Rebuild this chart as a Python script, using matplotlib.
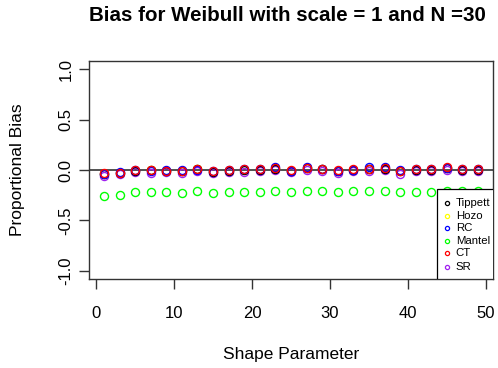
import numpy as np
import matplotlib
matplotlib.use("Agg")
import matplotlib.pyplot as plt
from matplotlib.patches import Rectangle

plt.rcParams['font.family'] = ['Liberation Sans', 'DejaVu Sans']

shape = np.arange(1, 50, 2)

tippett = [-0.036, -0.026, -0.007, -0.003, -0.007, -0.010, 0.007, -0.017, -0.007, 0.003,
           0.003, 0.013, -0.010, 0.017, 0.007, -0.010, 0.000, 0.010, 0.013, -0.013,
           0.003, 0.003, 0.017, 0.003, 0.003]
hozo = tippett
rc = [-0.043, -0.020, -0.003, -0.007, 0.000, 0.000, 0.003, -0.013, 0.000, 0.007,
      0.013, 0.026, -0.007, 0.030, 0.010, -0.007, 0.003, 0.026, 0.026, 0.000,
      0.013, 0.013, 0.020, 0.013, 0.013]
mantel = [-0.257, -0.244, -0.218, -0.218, -0.218, -0.231, -0.208, -0.228, -0.218, -0.218,
          -0.218, -0.205, -0.218, -0.205, -0.205, -0.218, -0.205, -0.205, -0.205, -0.218,
          -0.218, -0.218, -0.210, -0.210, -0.210]
ct = [-0.030, -0.030, 0.000, 0.000, -0.007, -0.013, 0.013, -0.010, -0.003, 0.013,
      0.007, 0.020, 0.000, 0.023, 0.013, 0.000, 0.007, 0.013, 0.020, -0.007,
      0.007, 0.007, 0.026, 0.007, 0.007]
sr = [-0.059, -0.043, -0.020, -0.026, -0.023, -0.026, -0.010, -0.030, -0.023, -0.017,
      -0.013, 0.000, -0.020, -0.003, -0.010, -0.026, -0.010, -0.007, -0.003, -0.036,
      -0.013, -0.010, 0.000, -0.007, -0.007]

names = ['Tippett', 'Hozo', 'RC', 'Mantel', 'CT', 'SR']
colors = ['black', '#FFFF00', '#0000FF', '#00FF00', '#FF0000', '#A020F0']
series = dict(zip(names, [tippett, hozo, rc, mantel, ct, sr]))
draw_order = ['Hozo', 'Mantel', 'SR', 'Tippett', 'RC', 'CT']

fig = plt.figure(figsize=(4.98, 3.68), dpi=100)
ax = fig.add_axes([89/498, 1-279/368, 404/498, 218/368])

ax.axhline(0, color='#333333', lw=1.2, zorder=1)
for n in draw_order:
    c = colors[names.index(n)]
    ax.plot(shape, series[n], 'o', mfc='none', mec=c, ms=5.8, mew=1.0, zorder=2)

ax.set_xlim(1 - 48*0.04, 49 + 48*0.04)
ax.set_ylim(-1.08, 1.08)
ax.set_xticks([0, 10, 20, 30, 40, 50])
ax.set_yticks([-1.0, -0.5, 0.0, 0.5, 1.0])
ax.set_yticklabels(['-1.0', '-0.5', '0.0', '0.5', '1.0'], rotation=90, va='center')
ax.tick_params(axis='x', length=7.2, width=1, color='#333333', labelsize=12, pad=12.5)
ax.tick_params(axis='y', length=7.2, width=1, color='#333333', labelsize=12, pad=4)
for s in ax.spines.values():
    s.set_color('#333333')
    s.set_linewidth(1)

# legend box in the bottom-right corner, cut off by the plot edge
tr = ax.transAxes
ax.add_patch(Rectangle((0.861, 0.0), 0.3, 0.413, transform=tr, facecolor='white',
                       edgecolor='black', lw=0.9, zorder=5, clip_on=True))
ys = [0.349, 0.289, 0.232, 0.174, 0.117, 0.056]
for n, c, y in zip(names, colors, ys):
    ax.plot([0.887], [y], 'o', transform=tr, mfc='none', mec=c, ms=3.0, mew=0.9,
            zorder=6, clip_on=True)
    ax.text(0.908, y, n, transform=tr, fontsize=8.2, va='center', ha='left',
            zorder=6, clip_on=True)

fig.text(0.578, 0.959, 'Bias for Weibull with scale = 1 and N =30', ha='center',
         va='center', fontsize=14.8, fontweight='bold')
fig.text(0.584, 0.038, 'Shape Parameter', ha='center', va='center', fontsize=12.5)
fig.text(0.036, 1-170/368, 'Proportional Bias', ha='center', va='center',
         fontsize=12.5, rotation=90)

fig.savefig('out.png', dpi=100)
